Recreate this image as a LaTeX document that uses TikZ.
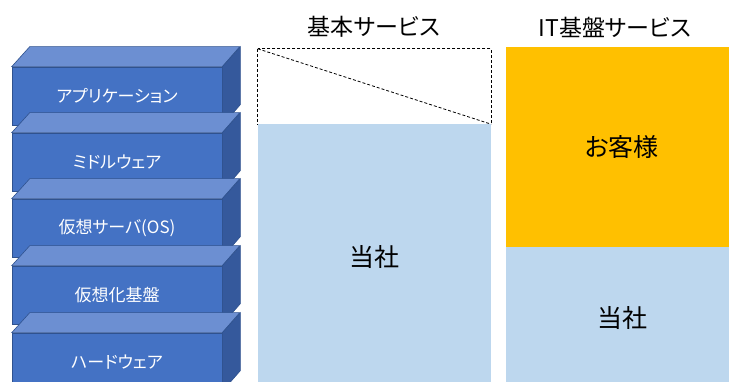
\documentclass[tikz,border=0pt]{standalone}
\usepackage{fontspec}
\newfontfamily\jp[RawFeature=+palt]{Noto Sans CJK JP}
\definecolor{frontc}{HTML}{4472C4}
\definecolor{topc}{HTML}{6C8FD2}
\definecolor{sidec}{HTML}{35599C}
\definecolor{edgec}{HTML}{2F528F}
\definecolor{lblue}{HTML}{BDD7EE}
\definecolor{orangec}{HTML}{FFC000}
\tikzset{
  front/.style={rectangle, fill=frontc, draw=edgec, line width=0.6pt, minimum width=210pt, minimum height=58pt, inner sep=0pt, text=white, font=\jp\fontsize{17}{19}\selectfont},
  topface/.style={fill=topc, draw=edgec, line width=0.6pt},
  sideface/.style={fill=sidec, draw=edgec, line width=0.6pt},
  colbox/.style={rectangle, inner sep=0pt},
  coltext/.style={inner sep=0pt, font=\jp\fontsize{25}{27}\selectfont},
  title/.style={inner sep=0pt, font=\jp\fontsize{23}{25}\selectfont},
  dashline/.style={draw=black, line width=0.8pt, dash pattern=on 3pt off 2pt}
}
\begin{document}
\begin{tikzpicture}[x=1pt,y=-1pt]
\useasboundingbox (0,0) rectangle (729,382);
\clip (0,0) rectangle (729,382);
\fill[white] (0,0) rectangle (729,382);
% left stack
\foreach \n/\t/\lab in {1/67/アプリケーション,2/133/ミドルウェア,3/199/仮想サーバ(OS),4/266/仮想化基盤,5/333/ハードウェア}{
  \node[front] (b\n) at (117,\t+29) {\lab};
  \draw[topface] (b\n.north west) -- ++(18,-20) -- ++(210,0) -- (b\n.north east) -- cycle;
  \draw[sideface] (b\n.north east) -- ++(18,-20) -- ++(0,58) -- (b\n.south east) -- cycle;
}
% middle column
\node[title] (t1) at (374,27) {基本サービス};
\node[colbox, minimum width=233pt, minimum height=75pt] (dash) at (374.5,86.5) {};
\draw[dashline] (dash.north west) rectangle (dash.south east);
\draw[dashline] (dash.north west) -- (dash.south east);
\node[colbox, fill=lblue, minimum width=233pt, minimum height=258pt] (m) at (374.5,253) {};
\node[coltext] (mt) at (374.5,257) {当社};
% right column
\node[title] (t2) at (615,27) {IT基盤サービス};
\node[colbox, fill=orangec, minimum width=223pt, minimum height=200pt] (cust) at (617.5,147) {};
\node[coltext] (custt) at (622,147) {お客様};
\node[colbox, fill=lblue, minimum width=223pt, minimum height=135pt] (own) at (617.5,314.5) {};
\node[coltext] (ownt) at (622,318) {当社};
\end{tikzpicture}
\end{document}
